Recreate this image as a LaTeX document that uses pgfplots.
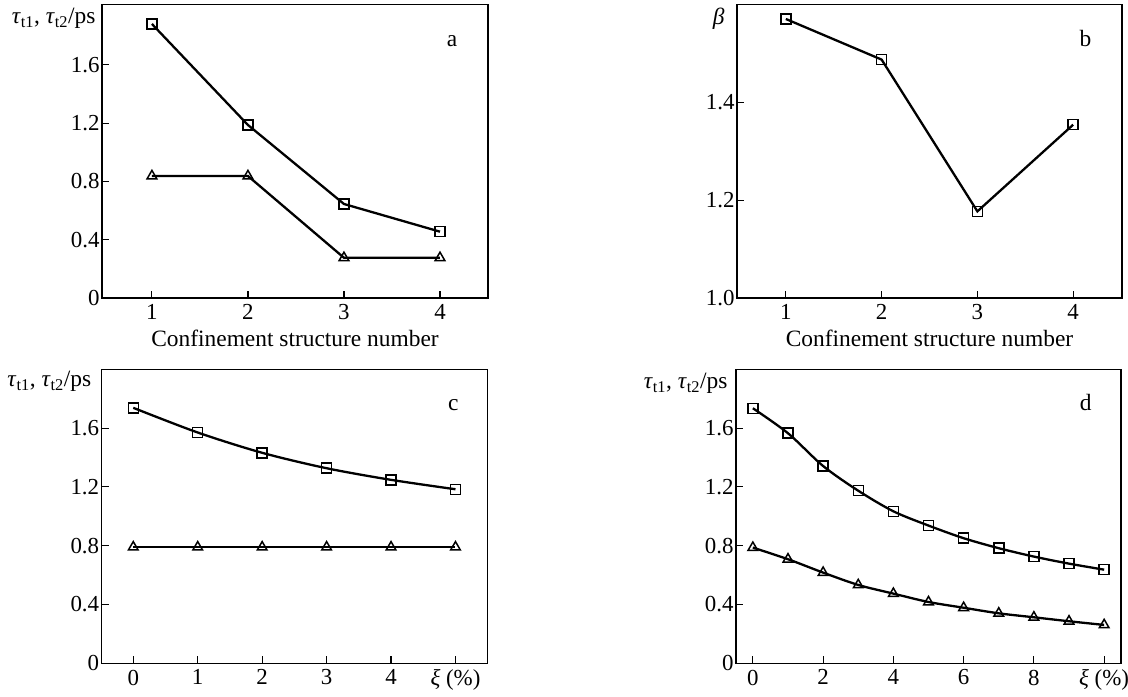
\documentclass[border=0pt]{standalone}
\usepackage{fontspec}
\setmainfont{Liberation Serif}
\usepackage{pgfplots}
\pgfplotsset{compat=1.18}
\newcommand\tk{\fontsize{23}{23}\selectfont}
\newcommand\lb{\fontsize{23.5}{23.5}\selectfont}
\newcommand\yl{\lb\textit{τ}\textsubscript{t1}, \textit{τ}\textsubscript{t2}/ps}
\pgfplotsset{
  base/.style={
    scale only axis, clip=false, anchor=south west,
    axis line style={line width=1.3bp},
    tick align=inside, xtick pos=left, ytick pos=left,
    major tick length=7bp,
    tick style={line width=1.1bp, black},
    every tick label/.append style={font=\tk},
    /pgf/number format/assume math mode=true,
    xticklabel style={yshift=-3bp},
    yticklabel style={xshift=1bp},
  },
  sq/.style={black, line width=2.3bp, mark=square, mark size=5bp, mark options={fill=white, line width=1.5bp, solid}},
  tr/.style={black, line width=2.3bp, mark=triangle, mark size=5.6bp, mark options={fill=white, line width=1.5bp, solid}},
}
\begin{document}
\begin{tikzpicture}
\path[use as bounding box] (0,0) rectangle (1128bp,697bp);
% panel a
\begin{axis}[base, at={(102bp,399bp)}, width=386bp, height=293.7bp,
  xmin=0.48, xmax=4.5, ymin=0, ymax=2.015,
  xtick={1,2,3,4}, ytick={0,0.4,0.8,1.2,1.6},
  yticklabel style={/pgf/number format/fixed, /pgf/number format/precision=1}]
\addplot[sq] coordinates {(1,1.88) (2,1.187) (3,0.645) (4,0.455)};
\addplot[tr] coordinates {(1,0.837) (2,0.837) (3,0.276) (4,0.276)};
\node[anchor=base east, xshift=-3bp, yshift=-19.5bp] at (rel axis cs:0,1) {\yl};
\node[anchor=base, xshift=-36bp, yshift=-42bp, font=\lb] at (rel axis cs:1,1) {a};
\node[anchor=base, yshift=-48.7bp, font=\lb] at (rel axis cs:0.5,0) {Confinement structure number};
\end{axis}
% panel b
\begin{axis}[base, at={(737bp,399bp)}, width=385bp, height=293.7bp,
  xmin=0.49, xmax=4.51, ymin=1.0, ymax=1.6,
  xtick={1,2,3,4}, ytick={1.0,1.2,1.4},
  yticklabel style={/pgf/number format/fixed, /pgf/number format/fixed zerofill, /pgf/number format/precision=1}]
\addplot[sq] coordinates {(1,1.570) (2,1.487) (3,1.177) (4,1.354)};
\node[anchor=base east, xshift=-9bp, yshift=-20bp, font=\lb] at (rel axis cs:0,1) {\textit{β}};
\node[anchor=base, xshift=-36.5bp, yshift=-42bp, font=\lb] at (rel axis cs:1,1) {b};
\node[anchor=base, yshift=-48.7bp, font=\lb] at (rel axis cs:0.5,0) {Confinement structure number};
\end{axis}
% panel c
\begin{axis}[base, at={(101.7bp,33.7bp)}, width=386bp, height=294bp,
  xmin=-0.49, xmax=5.5, ymin=0, ymax=2.0,
  xtick={0,1,2,3,4,5}, xticklabels={0,1,2,3,4,{\textit{ξ} (\%)}},
  ytick={0,0.4,0.8,1.2,1.6},
  yticklabel style={/pgf/number format/fixed, /pgf/number format/precision=1}]
\addplot[sq, smooth] coordinates {(0,1.738) (1,1.570) (2,1.432) (3,1.327) (4,1.248) (5,1.184)};
\addplot[tr] coordinates {(0,0.79) (1,0.79) (2,0.79) (3,0.79) (4,0.79) (5,0.79)};
\node[anchor=base east, xshift=-7bp, yshift=-17.5bp] at (rel axis cs:0,1) {\yl};
\node[anchor=base, xshift=-34.5bp, yshift=-41.5bp, font=\lb] at (rel axis cs:1,1) {c};
\end{axis}
% panel d
\begin{axis}[base, at={(736bp,33.7bp)}, width=385bp, height=294bp,
  xmin=-0.48, xmax=10.48, ymin=0, ymax=2.0,
  xtick={0,2,4,6,8,10}, xticklabels={0,2,4,6,8,{\textit{ξ} (\%)}},
  ytick={0,0.4,0.8,1.2,1.6},
  yticklabel style={/pgf/number format/fixed, /pgf/number format/precision=1}]
\addplot[sq, smooth] coordinates {(0,1.735) (1,1.565) (2,1.342) (3,1.174) (4,1.034) (5,0.937) (6,0.851) (7,0.783) (8,0.726) (9,0.678) (10,0.637)};
\addplot[tr, smooth] coordinates {(0,0.787) (1,0.708) (2,0.617) (3,0.533) (4,0.474) (5,0.417) (6,0.378) (7,0.340) (8,0.313) (9,0.286) (10,0.261)};
\node[anchor=base east, xshift=-5bp, yshift=-19bp] at (rel axis cs:0,1) {\yl};
\node[anchor=base, xshift=-35.3bp, yshift=-41.5bp, font=\lb] at (rel axis cs:1,1) {d};
\end{axis}
\end{tikzpicture}
\end{document}
